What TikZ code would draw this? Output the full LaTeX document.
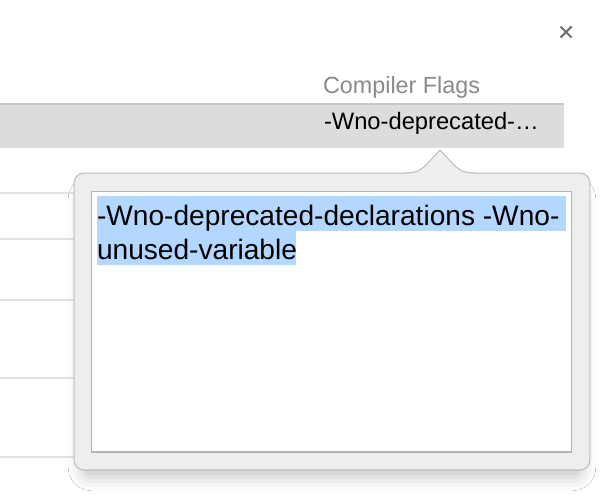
\documentclass[tikz,border=0pt]{standalone}
\usepackage{fontspec}
\setmainfont{Liberation Sans}
\usepackage{tikz}
\usetikzlibrary{shadows.blur,positioning,fit}

\definecolor{popgray}{HTML}{EEEEEE}
\definecolor{popedge}{HTML}{BDBDBD}
\definecolor{boxedge}{HTML}{B4B4B4}
\definecolor{rowgray}{HTML}{DCDCDC}
\definecolor{rowedge}{HTML}{C8C8C8}
\definecolor{sepgray}{HTML}{E2E2E2}
\definecolor{selblue}{HTML}{B3D7FF}
\definecolor{headgray}{HTML}{8A8A8A}
\definecolor{closegray}{HTML}{707070}

\begin{document}
\begin{tikzpicture}[x=0.02cm, y=-0.02cm, inner sep=0pt, outer sep=0pt]
\tikzset{popover/.style = {draw=popedge, fill=popgray, line width=.6pt,
  rounded corners=.2cm,
  blur shadow={shadow xshift=0pt, shadow yshift=-.24cm, shadow scale=.97,
    shadow blur radius=.28cm, shadow opacity=22}},
  textbox/.style = {draw=boxedge, fill=white, line width=.6pt},
  rowfill/.style = {fill=rowgray},
  sepline/.style = {draw=sepgray, line width=.8pt},
  headtext/.style = {text=headgray, font=\fontsize{13.3}{16}\selectfont},
  celltext/.style = {text=black, font=\fontsize{13.5}{16}\selectfont},
  flagtext/.style = {text=black, font=\fontsize{16}{19}\selectfont},
  selbg/.style = {fill=selblue},
  closemark/.style = {draw=closegray, line width=1.2pt}}
\useasboundingbox[fill=white] (0,0) rectangle (608,498);

  % table behind the popover
  \foreach \y in {193,239,300,378,457}
    \draw[sepline] (0,\y) -- (90,\y);

  \node[rowfill, minimum width=11.28cm, minimum height=.88cm] (flagrow) at (282,126) {};
  \draw[draw=rowedge, line width=.8pt] (flagrow.north west) -- (flagrow.north east);

  \node[headtext, anchor=base west] (header) at (323,93) {Compiler Flags};
  \node[celltext, anchor=base west] (rowflags) at (324,129) {-Wno-deprecated-…};

  \coordinate (close) at (566,32);
  \draw[closemark] (close) +(-5.5,-5.5) -- +(5.5,5.5)
    (close) +(-5.5,5.5) -- +(5.5,-5.5);

  % popover
  \node[popover, minimum width=10.32cm, minimum height=5.94cm] (popup) at (332,321.5) {};
  \fill[popgray] (405,175) -- (405,173.5) .. controls (418,173.5) and (422,169) .. (427,164)
    -- (440,150) -- (453,164) .. controls (458,169) and (462,173.5) .. (475,173.5) -- (475,175) -- cycle;
  \draw[draw=popedge, line width=.6pt] (405,173) .. controls (418,173) and (422,169) .. (427,164)
    -- (440,150) -- (453,164) .. controls (458,169) and (462,173) .. (475,173);

  \node[textbox, minimum width=9.62cm, minimum height=5.22cm] (flagbox) at (331.5,321.5) {};

  \path[selbg] (97,196) rectangle (566,231);
  \path[selbg] (97,231) rectangle (296,265);

  \node[flagtext, anchor=base west] (line1) at (97,225) {-Wno-deprecated-declarations -Wno-};
  \node[flagtext, anchor=base west] (line2) at (97,259) {unused-variable};

\end{tikzpicture}
\end{document}
